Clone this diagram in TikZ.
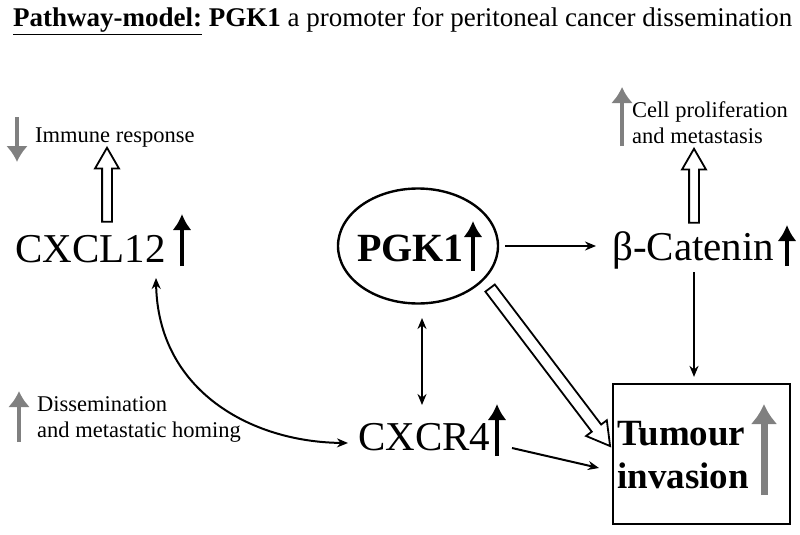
\documentclass[tikz,border=0pt]{standalone}
\usepackage{fontspec}
\setmainfont{Liberation Serif}
\usetikzlibrary{arrows.meta,shapes.geometric,shapes.arrows,calc}
\begin{document}
\begin{tikzpicture}[x=1pt,y=-1pt,
  big/.style={font=\fontsize{41}{48}\selectfont, inner sep=0pt, anchor=base west},
  small/.style={font=\fontsize{22.5}{25.5}\selectfont, inner sep=0pt, align=left, anchor=base west},
  conn/.style={line width=2pt, -{Stealth[length=11pt,width=9pt]}},
  biconn/.style={line width=2pt, {Stealth[length=11pt,width=9pt]}-{Stealth[length=11pt,width=9pt]}},
  upar/.style={line width=3.6pt, -{Latex[length=16pt,width=19pt]}},
  grayar/.style={line width=4.2pt, draw=gray, -{Latex[length=16pt,width=22pt]}},
  hollow/.style={single arrow, draw, line width=1.8pt, fill=white, inner xsep=0pt, single arrow tip angle=60}
]
\useasboundingbox (0,0) rectangle (800,535);

% title
\node[anchor=base west, inner sep=0pt, font=\fontsize{27}{30}\selectfont] (title) at (13,27)
  {\underline{\textbf{Pathway-model:}} \textbf{PGK1} a promoter for peritoneal cancer dissemination};

% main nodes
\node[big] (cxcl) at (15,262) {CXCL12};
\node[big] (cat) at (612,260) {β-Catenin};
\node[big] (cxcr) at (358,450) {CXCR4};
\node[draw, ellipse, line width=2.4pt, minimum width=160pt, minimum height=115pt] (pgk) at (418,246) {};
\node[inner sep=0pt, anchor=base west, font=\fontsize{40}{46}\selectfont\bfseries] (pgkt) at (357,261) {PGK1};
\node[draw, line width=2.2pt, minimum width=177pt, minimum height=140pt, inner sep=0pt] (box) at (701.5,454) {};
\node[inner sep=0pt, anchor=base west, align=left, font=\fontsize{37}{43}\selectfont\bfseries] (boxt) at (617,488) {Tumour\\invasion};

% small labels
\node[small] (imm) at (35,142) {Immune response};
\node[small] (cell) at (632,143) {Cell proliferation\\and metastasis};
\node[small] (diss) at (37,437) {Dissemination\\and metastatic homing};

% up/down indicator arrows
\coordinate (a1s) at (182,266); \coordinate (a1e) at (182,214);
\draw[upar] (a1s) -- (a1e);
\coordinate (a2s) at (473,271); \coordinate (a2e) at (473,221);
\draw[upar] (a2s) -- (a2e);
\coordinate (a3s) at (787,266); \coordinate (a3e) at (787,225);
\draw[upar] (a3s) -- (a3e);
\coordinate (a4s) at (497,456); \coordinate (a4e) at (497,404);
\draw[upar] (a4s) -- (a4e);
\coordinate (g1s) at (17,117); \coordinate (g1e) at (17,162);
\draw[grayar] (g1s) -- (g1e);
\coordinate (g2s) at (622,146); \coordinate (g2e) at (622,87);
\draw[grayar] (g2s) -- (g2e);
\coordinate (g3s) at (19,442); \coordinate (g3e) at (19,391);
\draw[grayar] (g3s) -- (g3e);
\coordinate (g4s) at (764,495); \coordinate (g4e) at (764,404);
\draw[draw=gray, line width=7pt, -{Latex[length=20pt,width=27pt]}] (g4s) -- (g4e);

% hollow arrows
\coordinate (h1s) at (107,226); \coordinate (h1e) at (107,152);
\coordinate (h2s) at (694,227); \coordinate (h2e) at (694,153);
\coordinate (h3s) at (487,284); \coordinate (h3e) at (607,442);
\foreach \hs/\he/\hw/\hy in {h1s/h1e/17pt/4pt, h2s/h2e/17pt/4pt, h3s/h3e/25pt/5pt}{
  \path let \p1=(\hs), \p2=(\he), \n1={atan2(\y2-\y1,\x2-\x1)}, \n2={veclen(\x2-\x1,\y2-\y1)} in
    node[hollow, rotate=\n1, minimum height=\n2, minimum width=\hw, inner ysep=\hy] at ($(\p1)!0.5!(\p2)$) {};
}

% connectors
\coordinate (p1) at (505,246);
\coordinate (p2) at (596,246);
\draw[conn] (p1) -- (p2);
\coordinate (c1) at (694,272);
\draw[conn] (c1) -- ($(box.north -| c1)+(0,-6)$);
\coordinate (d1) at (422,318); \coordinate (d2) at (422,405);
\draw[biconn] (d1) -- (d2);
\coordinate (e1) at (512,448);
\coordinate (e2) at (599,468);
\draw[conn] (e1) -- (e2);
\coordinate (f1) at (156,278);
\coordinate (f2) at (348,443);
\draw[biconn] (f1) .. controls (158,390) and (250,442) .. (f2);
\end{tikzpicture}
\end{document}
